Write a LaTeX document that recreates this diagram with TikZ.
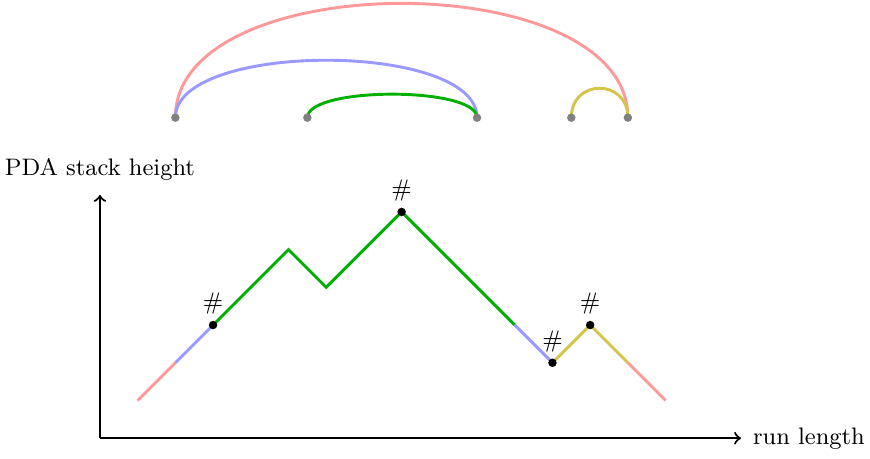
\documentclass[tikz,border=0pt]{standalone}
\usetikzlibrary{positioning}

\begin{document}
\begin{tikzpicture}[x=0.5cm,y=0.5cm,font=\small]
  \definecolor{outer}{HTML}{FF9999}
  \definecolor{middle}{HTML}{9999FF}
  \definecolor{inner}{HTML}{00B000}
  \definecolor{side}{HTML}{D4C44A}
  \path[use as bounding box] (-2.65,-0.53) rectangle (20.42,11.62);

  \tikzset{run/.style={line width=1.1pt},
           topdot/.style={circle,fill=gray,inner sep=0pt,minimum size=3.2pt},
           popdot/.style={circle,fill=black,inner sep=0pt,minimum size=3.2pt},
           hashsign/.style={inner sep=2pt}}

  % axes
  \coordinate (o) at (0,0);
  \coordinate (xend) at (17,0);
  \coordinate (yend) at (0,6.45);
  \draw[line width=0.8pt,->] (o) -- (xend);
  \draw[line width=0.8pt,->] (o) -- (yend);
  \node[right=1pt of xend] (xlab) {run length};
  \node[above=2pt of yend] (ylab) {PDA stack height};

  % the run, one colour per matching pair
  \coordinate (p0) at (1,1);
  \coordinate (p1) at (2,2);
  \coordinate (p2) at (3,3);
  \coordinate (p3) at (5,5);
  \coordinate (p4) at (6,4);
  \coordinate (p5) at (8,6);
  \coordinate (p6) at (11,3);
  \coordinate (p7) at (12,2);
  \coordinate (p8) at (13,3);
  \coordinate (p9) at (14,2);
  \coordinate (p10) at (15,1);
  \draw[run,outer] (p0) -- (p1);
  \draw[run,middle] (p1) -- (p2);
  \draw[run,inner] (p2) -- (p3) -- (p4) -- (p5) -- (p6);
  \draw[run,middle] (p6) -- (p7);
  \draw[run,side] (p7) -- (p8) -- (p9);
  \draw[run,outer] (p9) -- (p10);

  \node[popdot] (m1) at (p2) {};
  \node[popdot] (m2) at (p5) {};
  \node[popdot] (m3) at (p7) {};
  \node[popdot] (m4) at (p8) {};
  \node[hashsign,above=0pt of m1] (h1) {\#};
  \node[hashsign,above=0pt of m2] (h2) {\#};
  \node[hashsign,above=0pt of m3] (h3) {\#};
  \node[hashsign,above=0pt of m4] (h4) {\#};

  % matching arcs above
  \coordinate (t1) at (2,8.5);
  \coordinate (t2) at (5.5,8.5);
  \coordinate (t3) at (10,8.5);
  \coordinate (t4) at (12.5,8.5);
  \coordinate (t5) at (14,8.5);
  \draw[run,outer] (t1) .. controls +(0,4.04) and +(0,4.04) .. (t5);
  \draw[run,middle] (t1) .. controls +(0,2.03) and +(0,2.03) .. (t3);
  \draw[run,inner] (t2) .. controls +(0,0.83) and +(0,0.83) .. (t3);
  \draw[run,side] (t4) .. controls +(0,1.04) and +(0,1.04) .. (t5);
  \node[topdot] (d1) at (t1) {};
  \node[topdot] (d2) at (t2) {};
  \node[topdot] (d3) at (t3) {};
  \node[topdot] (d4) at (t4) {};
  \node[topdot] (d5) at (t5) {};
\end{tikzpicture}
\end{document}
